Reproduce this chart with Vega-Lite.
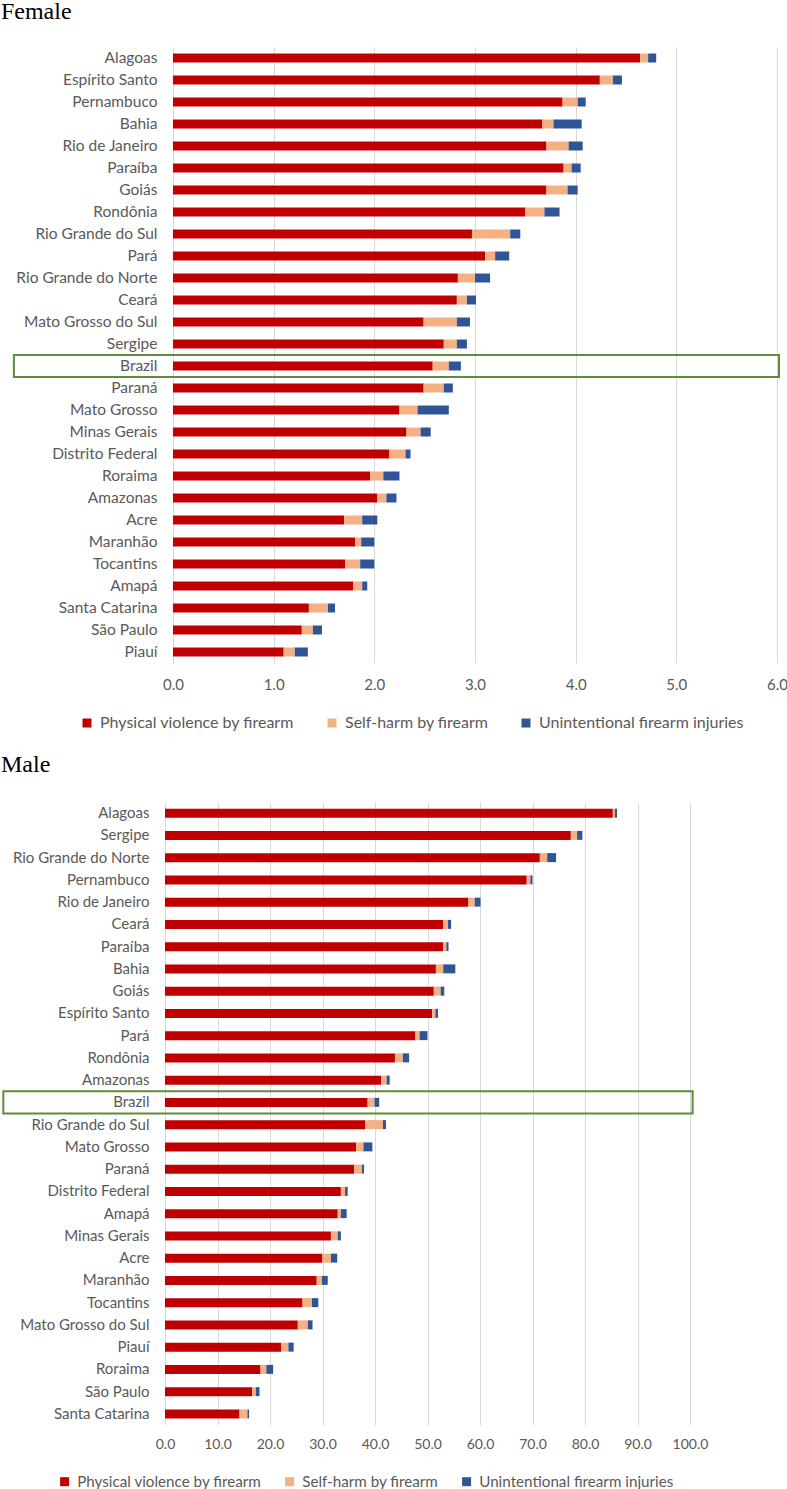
{
  "$schema": "https://vega.github.io/schema/vega-lite/v6.json",
  "padding": 0,
  "background": "white",
  "config": {
    "view": {"stroke": null},
    "font": "Lato",
    "axis": {"labelColor": "#595959", "domain": false, "ticks": false, "title": null, "gridColor": "#d9d9d9", "labelFlush": false},
    "legend": {"labelColor": "#595959", "symbolType": "square", "symbolStrokeWidth": 0, "title": null, "labelLimit": 400, "padding": 0}
  },
  "datasets": {
    "female": [
      {"state": "Alagoas", "assault": 4.64, "selfharm": 0.08, "unintentional": 0.08},
      {"state": "Espírito Santo", "assault": 4.24, "selfharm": 0.13, "unintentional": 0.09},
      {"state": "Pernambuco", "assault": 3.87, "selfharm": 0.15, "unintentional": 0.08},
      {"state": "Bahia", "assault": 3.67, "selfharm": 0.11, "unintentional": 0.28},
      {"state": "Rio de Janeiro", "assault": 3.71, "selfharm": 0.22, "unintentional": 0.14},
      {"state": "Paraíba", "assault": 3.88, "selfharm": 0.08, "unintentional": 0.09},
      {"state": "Goiás", "assault": 3.71, "selfharm": 0.21, "unintentional": 0.10},
      {"state": "Rondônia", "assault": 3.50, "selfharm": 0.19, "unintentional": 0.15},
      {"state": "Rio Grande do Sul", "assault": 2.97, "selfharm": 0.38, "unintentional": 0.10},
      {"state": "Pará", "assault": 3.10, "selfharm": 0.10, "unintentional": 0.14},
      {"state": "Rio Grande do Norte", "assault": 2.83, "selfharm": 0.17, "unintentional": 0.15},
      {"state": "Ceará", "assault": 2.82, "selfharm": 0.10, "unintentional": 0.09},
      {"state": "Mato Grosso do Sul", "assault": 2.49, "selfharm": 0.33, "unintentional": 0.13},
      {"state": "Sergipe", "assault": 2.69, "selfharm": 0.13, "unintentional": 0.10},
      {"state": "Brazil", "assault": 2.58, "selfharm": 0.16, "unintentional": 0.12},
      {"state": "Paraná", "assault": 2.49, "selfharm": 0.20, "unintentional": 0.09},
      {"state": "Mato Grosso", "assault": 2.25, "selfharm": 0.18, "unintentional": 0.31},
      {"state": "Minas Gerais", "assault": 2.32, "selfharm": 0.14, "unintentional": 0.10},
      {"state": "Distrito Federal", "assault": 2.15, "selfharm": 0.16, "unintentional": 0.05},
      {"state": "Roraima", "assault": 1.96, "selfharm": 0.13, "unintentional": 0.16},
      {"state": "Amazonas", "assault": 2.03, "selfharm": 0.09, "unintentional": 0.10},
      {"state": "Acre", "assault": 1.70, "selfharm": 0.18, "unintentional": 0.15},
      {"state": "Maranhão", "assault": 1.81, "selfharm": 0.06, "unintentional": 0.13},
      {"state": "Tocantins", "assault": 1.71, "selfharm": 0.15, "unintentional": 0.14},
      {"state": "Amapá", "assault": 1.79, "selfharm": 0.09, "unintentional": 0.05},
      {"state": "Santa Catarina", "assault": 1.35, "selfharm": 0.19, "unintentional": 0.07},
      {"state": "São Paulo", "assault": 1.28, "selfharm": 0.11, "unintentional": 0.09},
      {"state": "Piauí", "assault": 1.10, "selfharm": 0.11, "unintentional": 0.13}
    ],
    "male": [
      {"state": "Alagoas", "assault": 85.3, "selfharm": 0.4, "unintentional": 0.4},
      {"state": "Sergipe", "assault": 77.3, "selfharm": 1.2, "unintentional": 1.0},
      {"state": "Rio Grande do Norte", "assault": 71.4, "selfharm": 1.4, "unintentional": 1.7},
      {"state": "Pernambuco", "assault": 68.9, "selfharm": 0.7, "unintentional": 0.4},
      {"state": "Rio de Janeiro", "assault": 57.8, "selfharm": 1.2, "unintentional": 1.1},
      {"state": "Ceará", "assault": 53.0, "selfharm": 0.9, "unintentional": 0.6},
      {"state": "Paraíba", "assault": 53.0, "selfharm": 0.6, "unintentional": 0.4},
      {"state": "Bahia", "assault": 51.6, "selfharm": 1.4, "unintentional": 2.3},
      {"state": "Goiás", "assault": 51.2, "selfharm": 1.3, "unintentional": 0.7},
      {"state": "Espírito Santo", "assault": 50.9, "selfharm": 0.6, "unintentional": 0.5},
      {"state": "Pará", "assault": 47.7, "selfharm": 0.8, "unintentional": 1.5},
      {"state": "Rondônia", "assault": 43.8, "selfharm": 1.5, "unintentional": 1.2},
      {"state": "Amazonas", "assault": 41.2, "selfharm": 1.0, "unintentional": 0.6},
      {"state": "Brazil", "assault": 38.6, "selfharm": 1.3, "unintentional": 0.9},
      {"state": "Rio Grande do Sul", "assault": 38.1, "selfharm": 3.4, "unintentional": 0.6},
      {"state": "Mato Grosso", "assault": 36.4, "selfharm": 1.4, "unintentional": 1.7},
      {"state": "Paraná", "assault": 36.0, "selfharm": 1.5, "unintentional": 0.4},
      {"state": "Distrito Federal", "assault": 33.5, "selfharm": 0.8, "unintentional": 0.5},
      {"state": "Amapá", "assault": 32.9, "selfharm": 0.6, "unintentional": 1.1},
      {"state": "Minas Gerais", "assault": 31.6, "selfharm": 1.3, "unintentional": 0.6},
      {"state": "Acre", "assault": 30.0, "selfharm": 1.6, "unintentional": 1.2},
      {"state": "Maranhão", "assault": 28.9, "selfharm": 1.0, "unintentional": 1.1},
      {"state": "Tocantins", "assault": 26.2, "selfharm": 1.8, "unintentional": 1.2},
      {"state": "Mato Grosso do Sul", "assault": 25.3, "selfharm": 1.9, "unintentional": 0.9},
      {"state": "Piauí", "assault": 22.1, "selfharm": 1.4, "unintentional": 1.0},
      {"state": "Roraima", "assault": 18.2, "selfharm": 1.1, "unintentional": 1.3},
      {"state": "São Paulo", "assault": 16.6, "selfharm": 0.7, "unintentional": 0.7},
      {"state": "Santa Catarina", "assault": 14.2, "selfharm": 1.5, "unintentional": 0.3}
    ]
  },
  "vconcat": [
    {
      "title": {"text": "Female", "anchor": "start", "frame": "bounds", "dx": -12, "font": "Liberation Serif", "fontSize": 24, "fontWeight": "normal", "color": "#000000", "offset": 23},
      "width": 612,
      "height": 616,
      "data": {"name": "female"},
      "layer": [
        {
          "transform": [{"fold": ["assault", "selfharm", "unintentional"], "as": ["cause", "rate"]}],
          "mark": {"type": "bar", "height": 9},
          "encoding": {
            "y": {"field": "state", "type": "nominal", "sort": null,
                  "scale": {"paddingInner": 0, "paddingOuter": 0},
                  "axis": {"labelFontSize": 15.5, "labelPadding": 8}},
            "x": {"field": "rate", "type": "quantitative", "stack": "zero",
                  "scale": {"domain": [-0.079, 6], "nice": false, "zero": false},
                  "axis": {"format": ".1f", "values": [0, 1, 2, 3, 4, 5, 6], "labelFontSize": 15, "labelPadding": 14}},
            "color": {"field": "cause", "type": "nominal",
                      "scale": {"domain": ["assault", "selfharm", "unintentional"], "range": ["#C00000", "#F4B183", "#2F5597"]},
                      "legend": {"orient": "none", "direction": "horizontal", "legendX": -86, "legendY": 668,
                                 "labelFontSize": 16, "symbolSize": 81, "columnPadding": 29, "labelOffset": 5,
                                 "labelExpr": "datum.label == 'assault' ? 'Physical violence by firearm' : datum.label == 'selfharm' ? 'Self-harm by firearm' : 'Unintentional firearm injuries'"}},
            "order": {"field": "cause"}
          }
        },
        {
          "transform": [{"filter": "datum.state == 'Brazil'"}],
          "mark": {"type": "rect", "filled": false, "stroke": "#5E8C3A", "strokeWidth": 2, "clip": false},
          "encoding": {
            "y": {"field": "state", "type": "nominal", "sort": null},
            "x": {"datum": -1.58, "type": "quantitative"},
            "x2": {"datum": 6.02}
          }
        }
      ]
    },
    {
      "title": {"text": "Male", "anchor": "start", "frame": "bounds", "dx": -1.3, "font": "Liberation Serif", "fontSize": 24, "fontWeight": "normal", "color": "#000000", "offset": 25},
      "width": 525,
      "height": 623,
      "data": {"name": "male"},
      "layer": [
        {
          "transform": [{"fold": ["assault", "selfharm", "unintentional"], "as": ["cause", "rate"]}],
          "mark": {"type": "bar", "height": 9},
          "encoding": {
            "y": {"field": "state", "type": "nominal", "sort": null,
                  "scale": {"paddingInner": 0, "paddingOuter": 0},
                  "axis": {"labelFontSize": 15, "labelPadding": 16}},
            "x": {"field": "rate", "type": "quantitative", "stack": "zero",
                  "scale": {"domain": [0, 100], "nice": false},
                  "axis": {"format": ".1f", "values": [0, 10, 20, 30, 40, 50, 60, 70, 80, 90, 100], "labelFontSize": 14, "labelPadding": 12}},
            "color": {"field": "cause", "type": "nominal",
                      "scale": {"domain": ["assault", "selfharm", "unintentional"], "range": ["#C00000", "#F4B183", "#2F5597"]},
                      "legend": {"orient": "none", "direction": "horizontal", "legendX": -108, "legendY": 672,
                                 "labelFontSize": 15.2, "symbolSize": 81, "columnPadding": 20, "labelOffset": 5,
                                 "labelExpr": "datum.label == 'assault' ? 'Physical violence by firearm' : datum.label == 'selfharm' ? 'Self-harm by firearm' : 'Unintentional firearm injuries'"}},
            "order": {"field": "cause"}
          }
        },
        {
          "transform": [{"filter": "datum.state == 'Brazil'"}],
          "mark": {"type": "rect", "filled": false, "stroke": "#5E8C3A", "strokeWidth": 2, "clip": false},
          "encoding": {
            "y": {"field": "state", "type": "nominal", "sort": null},
            "x": {"datum": -30.8, "type": "quantitative"},
            "x2": {"datum": 100.5}
          }
        }
      ]
    }
  ],
  "spacing": 22,
  "resolve": {"scale": {"color": "shared"}, "legend": {"color": "independent"}}
}
